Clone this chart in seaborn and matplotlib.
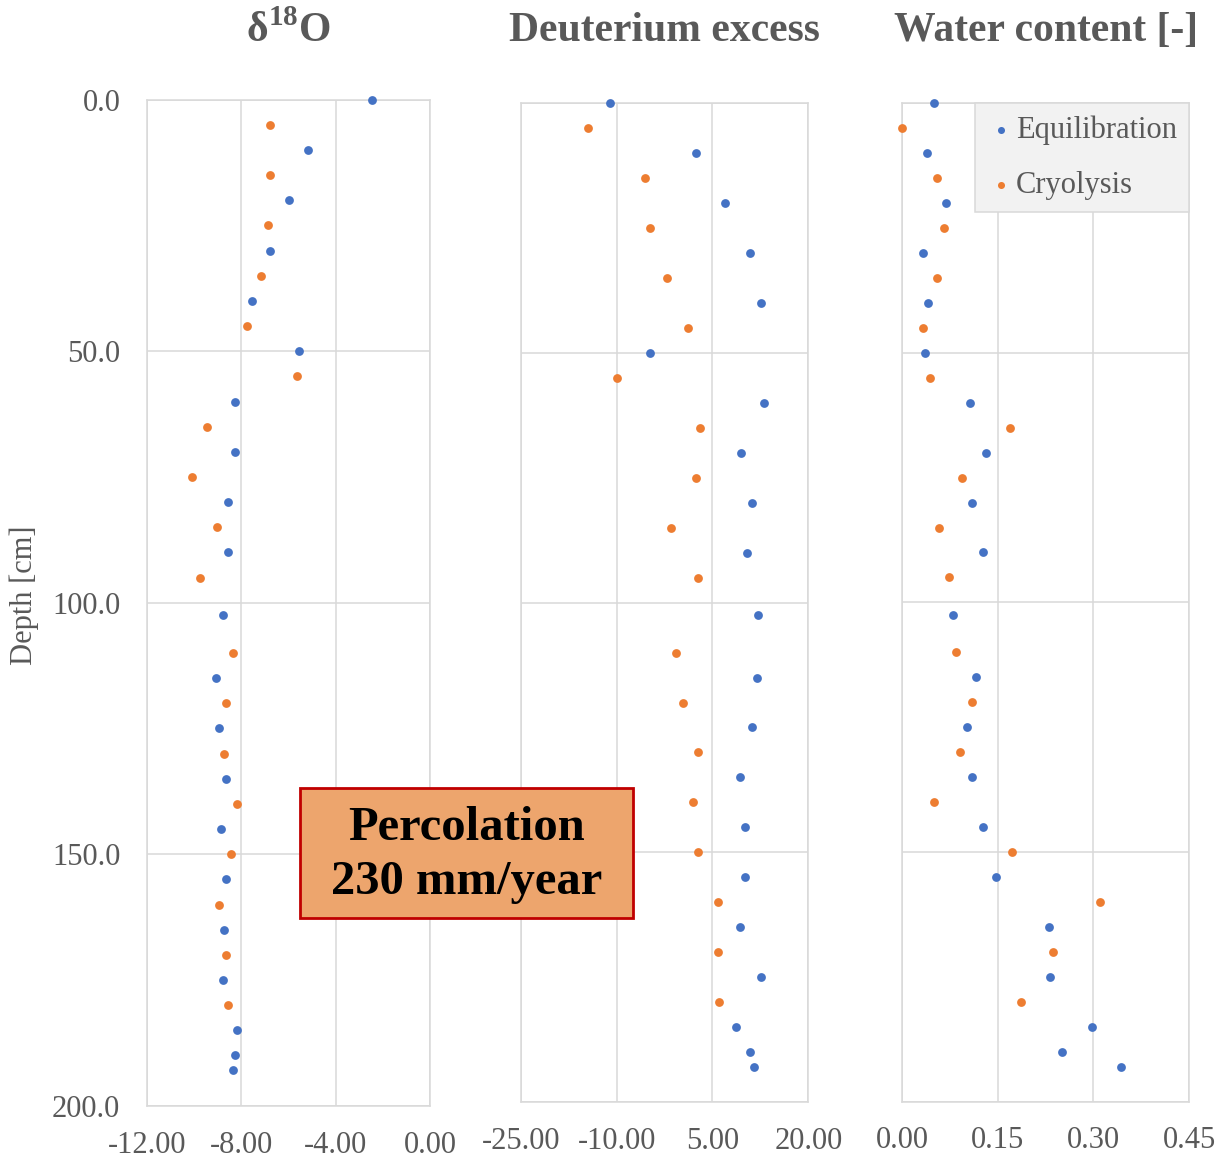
import seaborn as sns
import matplotlib.pyplot as plt
from matplotlib.patches import Rectangle
from matplotlib.ticker import FormatStrFormatter

# Depths [cm] of the two sample series
depth_eq = [0, 10, 20, 30, 40, 50, 60, 70, 80, 90, 102.5, 115, 125, 135, 145, 155, 165, 175, 185, 190, 193]
depth_cr = [5, 15, 25, 35, 45, 55, 65, 75, 85, 95, 110, 120, 130, 140, 150, 160, 170, 180]

# delta 18O
d18o_eq = [-2.47, -5.18, -5.99, -6.79, -7.53, -5.55, -8.26, -8.26, -8.57, -8.57, -8.78,
           -9.07, -8.94, -8.64, -8.87, -8.64, -8.71, -8.78, -8.19, -8.26, -8.33]
d18o_cr = [-6.79, -6.79, -6.88, -7.16, -7.77, -5.64, -9.45, -10.10, -9.01, -9.74, -8.35,
           -8.64, -8.71, -8.19, -8.42, -8.94, -8.64, -8.57]

# deuterium excess
dex_eq = [-11.0, 2.5, 6.9, 10.9, 12.6, -4.8, 13.1, 9.5, 11.2, 10.4, 12.2,
          12.0, 11.2, 9.3, 10.1, 10.1, 9.3, 12.6, 8.7, 10.9, 11.5]
dex_cr = [-14.5, -5.6, -4.8, -2.1, 1.2, -10.0, 3.1, 2.5, -1.5, 2.8, -0.7,
          0.35, 2.8, 1.9, 2.8, 5.8, 5.8, 6.0]

# water content
wc_eq = [0.049, 0.038, 0.068, 0.032, 0.041, 0.035, 0.106, 0.131, 0.109, 0.126, 0.079,
         0.115, 0.101, 0.109, 0.126, 0.147, 0.230, 0.232, 0.297, 0.251, 0.344]
wc_cr = [0.0, 0.055, 0.065, 0.055, 0.032, 0.044, 0.169, 0.093, 0.057, 0.074, 0.085,
         0.109, 0.090, 0.049, 0.172, 0.311, 0.237, 0.186]

titles = ["δ$^{\\mathbf{18}}$O", "Deuterium excess", "Water content [-]"]
xticks = [[-12, -8, -4, 0], [-25, -10, 5, 20], [0, 0.15, 0.30, 0.45]]
yticks = [0, 50, 100, 150, 200]

sns.set_theme(style="white")
plt.rcParams['font.family'] = ['Liberation Serif', 'DejaVu Serif']
plt.rcParams['mathtext.fontset'] = 'custom'
plt.rcParams['mathtext.rm'] = 'Liberation Serif'
plt.rcParams['mathtext.bf'] = 'Liberation Serif:bold'

W, H = 1229, 1167
fig = plt.figure(figsize=(W / 100, H / 100), dpi=100)

# axes boxes in pixels: left, right, top, bottom
boxes = [(146.7, 430.3, 99.7, 1105.7), (520.7, 808.3, 103.3, 1102.0), (902.3, 1189.0, 103.3, 1101.5)]
axes = [fig.add_axes([l / W, 1 - b / H, (r - l) / W, (b - t) / H]) for l, r, t, b in boxes]

blue, orange = '#4472c4', '#ed7d31'
grey = '#d9d9d9'
text_col = '#595959'
series = [(d18o_eq, d18o_cr), (dex_eq, dex_cr), (wc_eq, wc_cr)]

for i, ax in enumerate(axes):
    eq, cr = series[i]
    sns.scatterplot(x=eq, y=depth_eq, ax=ax, color=blue, s=40, linewidth=0,
                    clip_on=False, zorder=3, label='Equilibration')
    sns.scatterplot(x=cr, y=depth_cr, ax=ax, color=orange, s=40, linewidth=0,
                    clip_on=False, zorder=3, label='Cryolysis')
    ax.set_xlim(xticks[i][0], xticks[i][-1])
    ax.set_ylim(200, 0)
    ax.set_xticks(xticks[i])
    ax.set_yticks(yticks)
    ax.grid(True, color=grey, lw=1.1)
    for sp in ax.spines.values():
        sp.set_color(grey)
        sp.set_linewidth(1.1)
    ax.xaxis.set_major_formatter(FormatStrFormatter('%.2f'))
    ax.yaxis.set_major_formatter(FormatStrFormatter('%.1f'))
    ax.tick_params(axis='x', length=0, labelsize=22, labelcolor=text_col, pad=18)
    ax.tick_params(axis='y', length=0, labelsize=22, labelcolor=text_col, pad=19)
    if i > 0:
        ax.tick_params(axis='y', labelleft=False)
    ax.set_xlabel('')
    ax.set_ylabel('')
    cx = (boxes[i][0] + boxes[i][1]) / 2
    fig.text(cx / W, 1 - 31 / H, titles[i], ha='center', va='center',
             fontsize=30, fontweight='bold', color=text_col)
    if i < 2 and ax.get_legend() is not None:
        ax.get_legend().remove()

leg = axes[2].legend(loc='upper right', bbox_to_anchor=(1.0, 1.0), borderaxespad=0,
                     frameon=True, fancybox=False, facecolor='#f2f2f2', edgecolor=grey,
                     framealpha=1, fontsize=22, labelcolor=text_col, markerscale=0.8,
                     handletextpad=0.05, handlelength=0.9, labelspacing=0.85, borderpad=0.4)
leg.get_frame().set_linewidth(1.1)

fig.text(24 / W, 1 - 595 / H, 'Depth [cm]', rotation=90, ha='center', va='center',
         fontsize=22, color=text_col)

# Percolation box
fig.patches.append(Rectangle((300 / W, 1 - 918 / H), 333 / W, 130 / H, transform=fig.transFigure,
                             facecolor='#eda56d', edgecolor='#c00000', linewidth=2, zorder=10))
fig.text(466.5 / W, 1 - 855 / H, 'Percolation\n230 mm/year', ha='center', va='center',
         fontsize=35, fontweight='bold', color='black', zorder=11, linespacing=1.3)

fig.savefig('out.png', dpi=100)
